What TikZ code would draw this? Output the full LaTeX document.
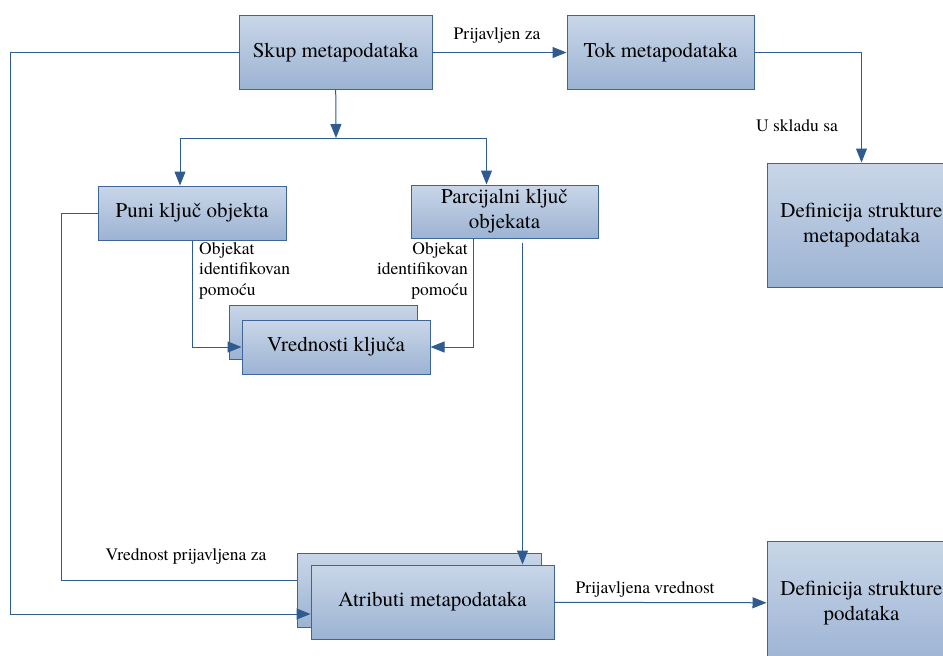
\documentclass[tikz,border=0pt]{standalone}
\usepackage{fontspec}
\setmainfont{TeX Gyre Termes}
\usetikzlibrary{arrows.meta}
\definecolor{boxtop}{HTML}{C9D6E8}
\definecolor{boxbot}{HTML}{9CB3D3}
\definecolor{boxrim}{HTML}{3F6597}
\definecolor{linkc}{HTML}{2F5B91}
\tikzset{
  blk/.style={draw=boxrim,line width=1pt,top color=boxtop,bottom color=boxbot,inner sep=0pt,align=center,font=\fontsize{21}{25}\selectfont},
  lbl/.style={font=\fontsize{17.5}{20.5}\selectfont,inner sep=0pt},
  wire/.style={draw=linkc,line width=1pt},
  link/.style={wire,-{Triangle[length=14pt,width=11pt]}},
}

\begin{document}
\begin{tikzpicture}[x=1pt,y=1pt]
  \useasboundingbox[fill=white] (0,0) rectangle (943,-656);
  % boxes
  \node[blk,minimum width=193pt,minimum height=74pt] (skup) at (335.5,-52.5) {Skup metapodataka};
  \node[blk,minimum width=187pt,minimum height=74pt] (tok) at (660.5,-52.5) {Tok metapodataka};
  \node[blk,minimum width=188pt,minimum height=54pt] (puni) at (192,-213) {Puni ključ objekta};
  \node[blk,minimum width=187pt,minimum height=53pt] (parc) at (504.5,-211.5) {Parcijalni ključ\\objekata};
  \node[blk,minimum width=188pt,minimum height=54pt] (vredb) at (323,-332) {};
  \node[blk,minimum width=188pt,minimum height=54pt] (vred) at (336,-347) {Vrednosti ključa};
  \node[blk,minimum width=189pt,minimum height=124pt] (defmeta) at (861.5,-225) {Definicija strukture\\metapodataka};
  \node[blk,minimum width=244pt,minimum height=74pt] (atrb) at (419,-590) {};
  \node[blk,minimum width=243pt,minimum height=74pt] (atr) at (432.5,-602) {Atributi metapodataka};
  \node[blk,minimum width=189pt,minimum height=124pt] (defpod) at (861.5,-603) {Definicija strukture\\podataka};
  % connectors
  \draw[link] (skup) -- (tok);
  \node[lbl] (l1) at (497,-35) {Prijavljen za};
  \draw[link] (tok) -| (defmeta);
  \node[lbl] (l2) at (797,-126) {U skladu sa};
  \coordinate (fork) at (336,-138);
  \draw[link] (skup) -- (fork);
  \draw[link] (fork) -| ([xshift=-12pt]puni.north);
  \draw[link] (fork) -| ([xshift=-18pt]parc.north);
  \draw[link] (puni) |- (vred);
  \draw[link] ([xshift=-31pt]parc.south) |- (vred);
  \node[lbl,anchor=north west,align=left] (l3) at (199,-242) {Objekat\\identifikovan\\pomoću};
  \node[lbl,anchor=north east,align=right] (l4) at (468,-242) {Objekat\\identifikovan\\pomoću};
  \draw[wire] (puni.west) -- ++(-36,0) |- ([yshift=10pt]atrb.west);
  \node[lbl] (l5) at (186,-556) {Vrednost prijavljena za};
  \draw[link] (skup.west) -- ++(-228,0) |- ([yshift=-12pt]atr.west);
  \draw[link,shorten <=4pt] ([xshift=18pt]parc.south) -- ([xshift=18pt]parc.south |- atr.north);
  \draw[link] (atr) -- (defpod);
  \node[lbl] (l6) at (645,-589) {Prijavljena vrednost};
\end{tikzpicture}
\end{document}
